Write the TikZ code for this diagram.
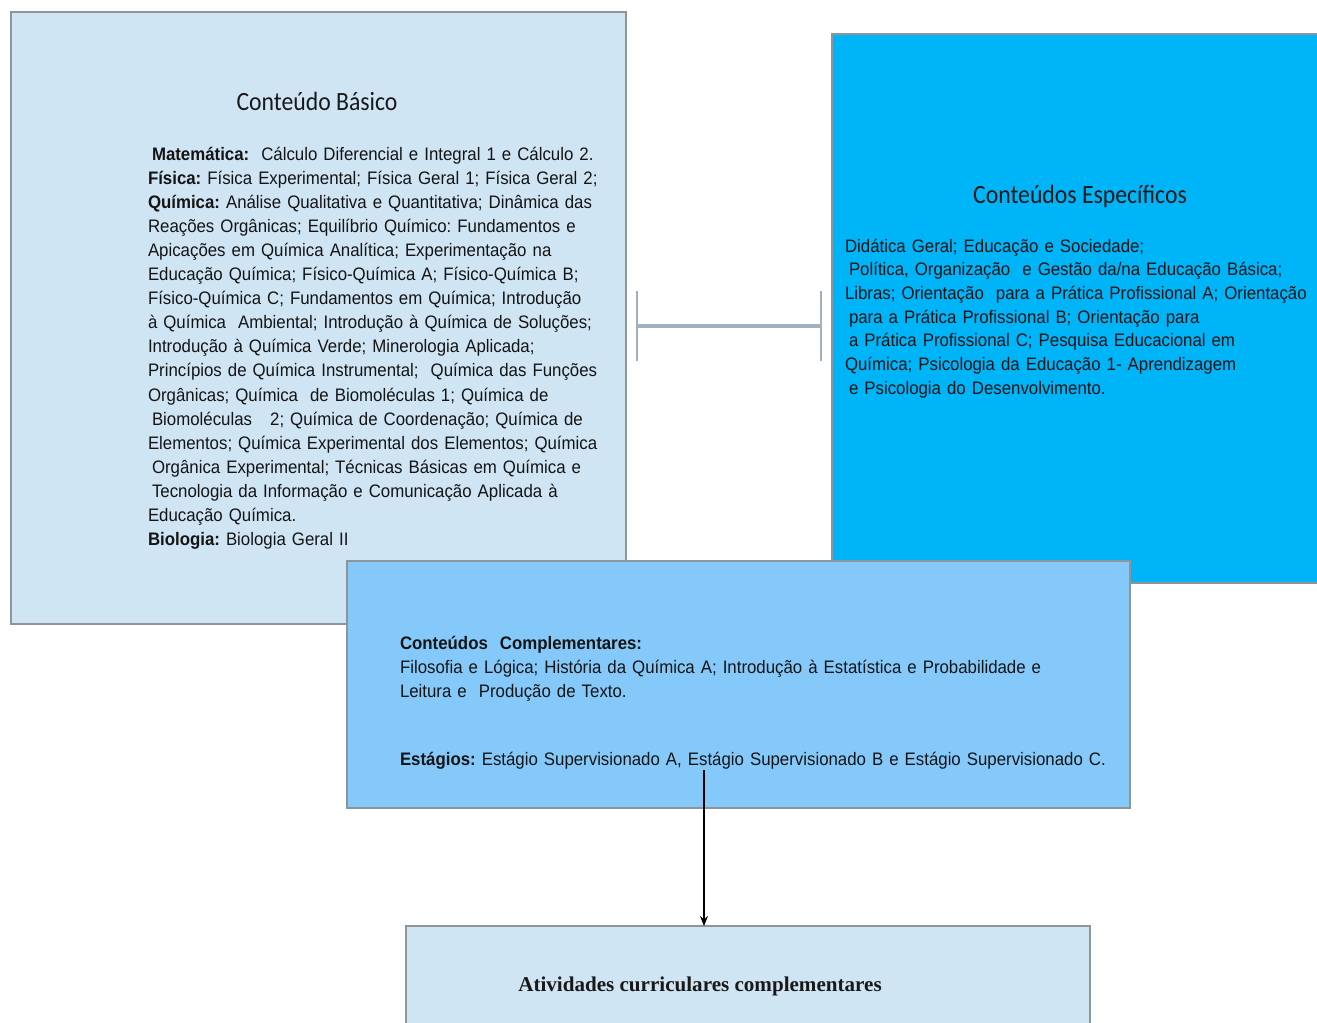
\documentclass[tikz,border=0pt]{standalone}
\usepackage{fontspec}
\setmainfont{Liberation Sans}[FakeStretch=0.93]
\newfontfamily\titlefont{Carlito}[FakeStretch=0.9]
\newfontfamily\seriffont{Liberation Serif}
\usetikzlibrary{arrows.meta}
\definecolor{basicofill}{HTML}{D0E5F4}
\definecolor{especfill}{HTML}{00B4F8}
\definecolor{complfill}{HTML}{84C9FA}
\definecolor{boxline}{HTML}{8E9499}
\definecolor{ligacaocor}{HTML}{A3B0BE}
\frenchspacing
\begin{document}
\begin{tikzpicture}[x=0.02cm,y=-0.02cm,inner sep=0pt,outer sep=0pt,
        box/.style={draw=boxline,line width=0.8pt,rectangle},
        txt/.style={anchor=base west,align=left,text width=16cm,text=black!92},
        titulo/.style={anchor=base,font=\titlefont\fontsize{15}{18}\selectfont,text=black!90},
        ligacao/.style={draw=ligacaocor,line width=2.2pt,
            {Bar[width=1.4cm,line width=1pt]}-{Bar[width=1.4cm,line width=1pt]},
            shorten <=0.2cm,shorten >=0.2cm},
        seta/.style={draw=black,line width=0.6pt,-{Stealth[length=0.2cm,width=0.16cm]}}]
        \clip (0,0) rectangle (1317,1022);
        % \draw[help lines,step=100] (0,0) grid (1317,1022);
        \node[box,fill=basicofill,minimum width=12.3cm,minimum height=12.24cm] (basico) at (318.5,318) {};
        \node[box,fill=especfill,minimum width=9.76cm,minimum height=10.98cm] (especificos) at (1076,308.5) {};
        \node[box,fill=complfill,minimum width=15.66cm,minimum height=4.94cm] (complementares) at (738.5,684.5) {};
        \node[box,fill=basicofill,minimum width=13.68cm,minimum height=2.08cm] (atividades) at (748,978) {};
        \node[titulo] (tbasico) at (317,110) {Conteúdo Básico};
        \node[txt,font=\fontsize{10.3}{13.72}\selectfont] (lbasico) at (148,160) {%
            \hspace{0.08cm}\textbf{Matemática:}~ Cálculo Diferencial e Integral 1 e Cálculo 2.\\
            \textbf{Física:} Física Experimental; Física Geral 1; Física Geral 2;\\
            \textbf{Química:} Análise Qualitativa e Quantitativa; Dinâmica das\\
            Reações Orgânicas; Equilíbrio Químico: Fundamentos e\\
            Apicações em Química Analítica; Experimentação na\\
            Educação Química; Físico-Química A; Físico-Química B;\\
            Físico-Química C; Fundamentos em Química; Introdução\\
            à Química~ Ambiental; Introdução à Química de Soluções;\\
            Introdução à Química Verde; Minerologia Aplicada;\\
            Princípios de Química Instrumental;~ Química das Funções\\
            Orgânicas; Química~ de Biomoléculas 1; Química de\\
            \hspace{0.08cm}Biomoléculas~~ 2; Química de Coordenação; Química de\\
            Elementos; Química Experimental dos Elementos; Química\\
            \hspace{0.08cm}Orgânica Experimental; Técnicas Básicas em Química e\\
            \hspace{0.08cm}Tecnologia da Informação e Comunicação Aplicada à\\
            Educação Química.\\
            \textbf{Biologia:} Biologia Geral II};
        \node[titulo] (tespecificos) at (1080,203) {Conteúdos Específicos};
        \node[txt,font=\fontsize{10.3}{13.49}\selectfont] (lespecificos) at (845,252) {%
            Didática Geral; Educação e Sociedade;\\
            \hspace{0.08cm}Política, Organização~ e Gestão da/na Educação Básica;\\
            Libras; Orientação~ para a Prática Profissional A; Orientação\\
            \hspace{0.08cm}para a Prática Profissional B; Orientação para\\
            \hspace{0.08cm}a Prática Profissional C; Pesquisa Educacional em\\
            Química; Psicologia da Educação 1- Aprendizagem\\
            \hspace{0.08cm}e Psicologia do Desenvolvimento.};
        \node[txt,font=\fontsize{10.3}{13.66}\selectfont] (lcomplementares) at (400,649) {%
            \textbf{Conteúdos~ Complementares:}\\
            Filosofia e Lógica; História da Química A; Introdução à Estatística e Probabilidade e\\
            Leitura e~ Produção de Texto.\\[0.88cm]
            \textbf{Estágios:} Estágio Supervisionado A, Estágio Supervisionado B e Estágio Supervisionado C.};
        \node[anchor=base,font=\seriffont\bfseries\fontsize{12}{14}\selectfont,text=black!90] (tatividades) at (700,991) {Atividades curriculares complementares};
        \draw[ligacao] ([yshift=-0.16cm]basico.east) -- ([yshift=-0.16cm]basico.east -| especificos.west);
        \coordinate (saida) at (704,770);
        \draw[seta] (saida) -- (saida |- atividades.north);
\end{tikzpicture}
\end{document}
